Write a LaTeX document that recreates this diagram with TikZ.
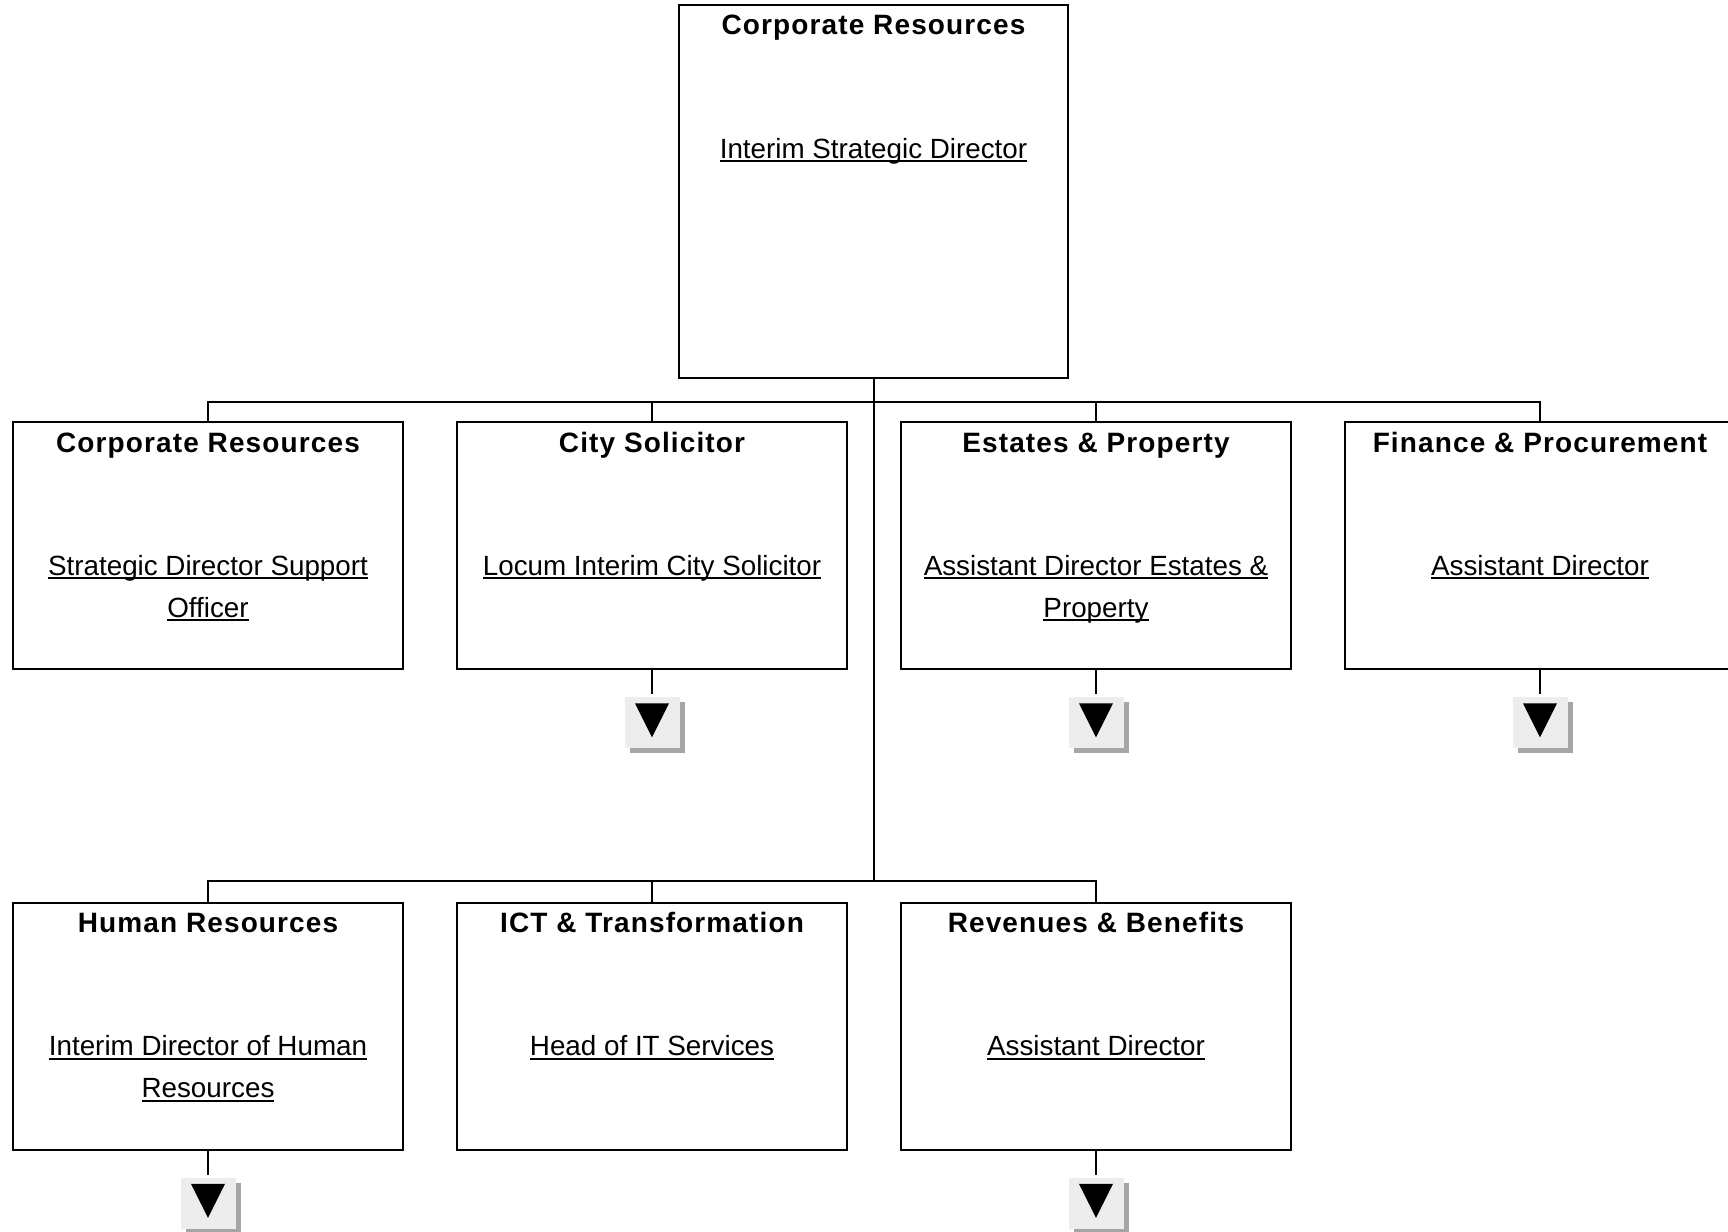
\documentclass[tikz,border=0pt]{standalone}
\usepackage{fontspec}
\setmainfont{Liberation Sans}
\newfontfamily\headfont{Liberation Sans}[LetterSpace=4]
\usetikzlibrary{positioning,shadows}

\newcommand{\postlines}[1]{\begin{tabular}[t]{@{}c@{}}#1\end{tabular}}
\newcommand{\postul}[1]{\setbox0\hbox{#1}\rlap{\rule[-2pt]{\wd0}{0.8pt}}\box0}

\tikzset{
  unitbox/.style={draw, line width=1pt, minimum width=195pt, minimum height=123.5pt, inner sep=0pt},
  topbox/.style={unitbox, minimum width=194.5pt, minimum height=186.5pt},
  headtext/.style={anchor=base, inner sep=0pt, font=\headfont\bfseries\fontsize{14}{17}\selectfont},
  posttext/.style={anchor=base, inner sep=0pt, font=\fontsize{13.9}{21}\selectfont},
  morebtn/.style={fill=black!7, minimum width=27.5pt, minimum height=25.5pt, inner sep=0pt,
    general shadow={fill=black!35, shadow xshift=2.5pt, shadow yshift=-2.5pt}},
  link/.style={line width=1pt}
}

\begin{document}
\begin{tikzpicture}[x=0.5pt, y=-0.5pt]
    \useasboundingbox (0,0) rectangle (1728,1231);

    \def\rowa{545.5}
    \def\rowb{1026}

    % boxes
    \node[topbox] (top) at (873.5,191.5) {};
    \node[unitbox] (corp) at (208,\rowa) {};
    \node[unitbox] (sol) at (652,\rowa) {};
    \node[unitbox] (est) at (1096,\rowa) {};
    \node[unitbox] (fin) at (1540,\rowa) {};
    \node[unitbox] (hr) at (208,\rowb) {};
    \node[unitbox] (ict) at (652,\rowb) {};
    \node[unitbox] (rev) at (1096,\rowb) {};

    % titles and posts
    \node[headtext] (top-head) at ([yshift=-15pt]top.north) {Corporate Resources};
    \node[posttext] (top-post) at ([yshift=-77pt]top.north) {\postlines{\postul{Interim Strategic Director}}};

    \node[headtext] (corp-head) at ([yshift=-15.5pt]corp.north) {Corporate Resources};
    \node[posttext] (corp-post) at ([yshift=-77pt]corp.north) {\postlines{\postul{Strategic Director Support}\\ \postul{Officer}}};
    \node[headtext] (sol-head) at ([yshift=-15.5pt]sol.north) {City Solicitor};
    \node[posttext] (sol-post) at ([yshift=-77pt]sol.north) {\postlines{\postul{Locum Interim City Solicitor}}};
    \node[headtext] (est-head) at ([yshift=-15.5pt]est.north) {Estates \& Property};
    \node[posttext] (est-post) at ([yshift=-77pt]est.north) {\postlines{\postul{Assistant Director Estates \&}\\ \postul{Property}}};
    \node[headtext] (fin-head) at ([yshift=-15.5pt]fin.north) {Finance \& Procurement};
    \node[posttext] (fin-post) at ([yshift=-77pt]fin.north) {\postlines{\postul{Assistant Director}}};

    \node[headtext] (hr-head) at ([yshift=-15.5pt]hr.north) {Human Resources};
    \node[posttext] (hr-post) at ([yshift=-77pt]hr.north) {\postlines{\postul{Interim Director of Human}\\ \postul{Resources}}};
    \node[headtext] (ict-head) at ([yshift=-15.5pt]ict.north) {ICT \& Transformation};
    \node[posttext] (ict-post) at ([yshift=-77pt]ict.north) {\postlines{\postul{Head of IT Services}}};
    \node[headtext] (rev-head) at ([yshift=-15.5pt]rev.north) {Revenues \& Benefits};
    \node[posttext] (rev-post) at ([yshift=-77pt]rev.north) {\postlines{\postul{Assistant Director}}};

    % connectors
    \coordinate (bus1) at (873.5,402);
    \coordinate (bus2) at (873.5,881);
    \draw[link] (top.south) -- (bus2);
    \draw[link] (corp.north) |- (bus1) -| (fin.north);
    \draw[link] (sol.north) -- (sol.north |- bus1);
    \draw[link] (est.north) -- (est.north |- bus1);
    \draw[link] (hr.north) |- (bus2) -| (rev.north);
    \draw[link] (ict.north) -- (ict.north |- bus2);

    % expand buttons
    \foreach \b in {sol,est,fin,hr,rev} {
        \draw[link] (\b.south) -- ++(0,24);
        \node[morebtn, below=13.5pt of \b.south] (\b-btn) {};
        \fill ([shift={(-17,-19.5)}]\b-btn.center) -- ++(34,0)
            -- ([shift={(0,14.5)}]\b-btn.center) -- cycle;
    }
\end{tikzpicture}
\end{document}
